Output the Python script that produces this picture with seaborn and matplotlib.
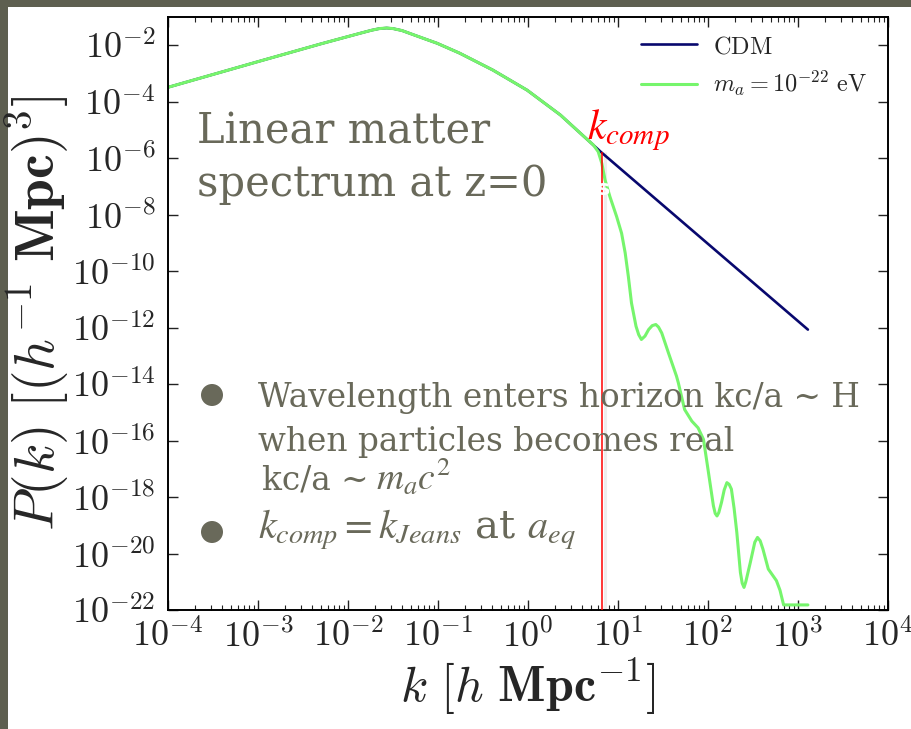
import numpy as np
import pandas as pd
import matplotlib
matplotlib.use("Agg")
import matplotlib.pyplot as plt
import seaborn as sns
from matplotlib.patches import Rectangle, Ellipse
from matplotlib.ticker import FixedLocator, LogLocator, FuncFormatter, NullFormatter
import matplotlib.transforms as mtransforms

# ---------------- data (log10 values) ----------------
cdm_logk = [-4.0, -3.0, -2.3, -2.01, -1.87, -1.74, -1.65, -1.57, -1.5, -1.4, -1.28, -1.15,
            -1.01, -0.76, -0.39, -0.01, 0.36, 0.69, 0.81, 3.11]
cdm_logP = [-3.49, -2.58, -1.95, -1.70, -1.58, -1.47, -1.41, -1.39, -1.41, -1.48, -1.62, -1.77,
            -1.93, -2.28, -2.88, -3.59, -4.47, -5.43, -5.78, -12.07]

axion_logk = [-4.0, -3.0, -2.3, -2.01, -1.87, -1.74, -1.65, -1.57, -1.5, -1.4, -1.28, -1.15,
              -1.01, -0.76, -0.39, -0.01, 0.36, 0.69, 0.726, 0.78, 0.82, 0.856, 0.91,
              0.985, 1.04, 1.08, 1.115, 1.15, 1.20, 1.23, 1.26, 1.30, 1.34, 1.38,
              1.42, 1.45, 1.486, 1.56, 1.65, 1.67, 1.74, 1.82, 1.89, 1.95, 2.00,
              2.06, 2.08, 2.10, 2.12, 2.15, 2.18, 2.21, 2.235, 2.26, 2.29, 2.32,
              2.36, 2.38, 2.40, 2.42, 2.47, 2.52, 2.55, 2.58, 2.61, 2.67, 2.76,
              2.80, 2.84, 3.11]
axion_logP = [-3.49, -2.58, -1.95, -1.70, -1.58, -1.47, -1.41, -1.39, -1.41, -1.48, -1.62, -1.77,
              -1.93, -2.28, -2.88, -3.59, -4.47, -5.43, -5.53, -5.77, -6.18, -6.77, -7.36,
              -8.07, -8.66, -9.36, -10.19, -11.13, -11.95, -12.25, -12.42, -12.30, -12.07, -11.93,
              -11.89, -11.98, -12.19, -12.89, -13.72, -13.95, -14.90, -15.31, -15.55, -15.96, -17.02,
              -18.31, -18.58, -18.67, -18.55, -18.19, -17.75, -17.49, -17.55, -17.72, -18.40, -19.25,
              -20.67, -21.05, -21.20, -21.00, -20.32, -19.60, -19.43, -19.55, -19.84, -20.55, -20.96,
              -21.30, -21.82, -21.82]

k_comp = 10 ** 0.82
P_at_kcomp = 10 ** -5.78

series_labels = [r"$\mathrm{CDM}$", r"$m_a = 10^{-22}\ \mathrm{eV}$"]
xtick_exponents = list(range(-4, 5))
ytick_exponents = list(range(-22, 0, 2))

# ---------------- style ----------------
sns.set_theme(style="white")
plt.rcParams["font.family"] = ["DejaVu Serif", "DejaVu Sans"]
plt.rcParams["mathtext.fontset"] = "cm"

W, H = 911, 729
fig = plt.figure(figsize=(W / 100, H / 100), dpi=100)
fig.patch.set_facecolor("white")

def fx(x):
    return x / W

def fy(y):
    return 1 - y / H

# slide frame strips (top & left)
frame_col = "#5e5f50"
fig.add_artist(Rectangle((0, fy(7)), 1, 7 / H, transform=fig.transFigure,
                         facecolor=frame_col, edgecolor="none", zorder=0))
fig.add_artist(Rectangle((0, 0), 8 / W, 1, transform=fig.transFigure,
                         facecolor=frame_col, edgecolor="none", zorder=0))

ax = fig.add_axes([fx(168), fy(610), (888 - 168) / W, (610 - 17) / H])
ax.set_facecolor("white")

cdm_df = pd.DataFrame({"k": 10 ** np.array(cdm_logk), "P": 10 ** np.array(cdm_logP)})
ax_df = pd.DataFrame({"k": 10 ** np.array(axion_logk), "P": 10 ** np.array(axion_logP)})

navy = "#08086e"
green = "#76f56c"
sns.lineplot(data=cdm_df, x="k", y="P", ax=ax, color=navy, linewidth=1.9,
             label=series_labels[0], sort=False)
sns.lineplot(data=ax_df, x="k", y="P", ax=ax, color=green, linewidth=2.2,
             label=series_labels[1], sort=False)
for ln in ax.lines:
    ln.set_solid_joinstyle("round")

ax.set_xscale("log")
ax.set_yscale("log")
ax.set_xlim(1e-4, 1e4)
ax.set_ylim(1e-22, 1e-1)

# red k_comp line with faint shadow
shadow = mtransforms.offset_copy(ax.transData, fig=fig, x=3, y=0, units="dots")
ax.plot([k_comp, k_comp], [1e-22, P_at_kcomp], color="#ededed", linewidth=2.2,
        transform=shadow, zorder=1, solid_capstyle="butt")
ax.plot([k_comp, k_comp], [1e-22, P_at_kcomp], color="red", linewidth=1.1,
        zorder=3, solid_capstyle="butt")

# ticks
ax.xaxis.set_major_locator(FixedLocator([10.0 ** e for e in xtick_exponents]))
ax.xaxis.set_minor_locator(LogLocator(base=10, subs=np.arange(2, 10), numticks=50))
ax.xaxis.set_minor_formatter(NullFormatter())
ax.yaxis.set_major_locator(FixedLocator([10.0 ** e for e in ytick_exponents]))
ax.yaxis.set_minor_locator(FixedLocator([]))
fmt = FuncFormatter(lambda v, p: r"$10^{%d}$" % int(round(np.log10(v))))
ax.xaxis.set_major_formatter(fmt)
ax.yaxis.set_major_formatter(fmt)
ax.tick_params(which="both", direction="in", top=True, right=True, bottom=True, left=True,
               color="#222222")
ax.tick_params(which="major", length=7, width=1.0, labelsize=26)
ax.tick_params(which="minor", length=3.5, width=0.8)
ax.tick_params(axis="y", pad=9)
ax.tick_params(axis="x", pad=6)
for s in ax.spines.values():
    s.set_visible(True)
    s.set_color("black")
    s.set_linewidth(1.4)

ax.set_xlabel(r"$k\ [h\ \mathbf{Mpc}^{-1}]$", fontsize=36, labelpad=2)
ax.set_ylabel(r"$P(k)\ [(h^{-1}\ \mathbf{Mpc})^{3}]$", fontsize=40, labelpad=0)

leg = ax.legend(loc="upper left", bbox_to_anchor=(fx(641), fy(35)),
                bbox_transform=fig.transFigure, frameon=False, fontsize=17.5,
                handlelength=2.3, handletextpad=0.65, labelspacing=0.45,
                borderpad=0, borderaxespad=0)

# ---------------- slide annotations ----------------
olive = "#69695a"
fig.text(fx(197), fy(143), "Linear matter", fontsize=30, color=olive, va="baseline")
fig.text(fx(197), fy(196), "spectrum at z=0", fontsize=30, color=olive, va="baseline")

fig.text(fx(587), fy(139), r"$k_{comp}$", color="red", fontsize=30,
         math_fontfamily="stix", va="baseline")
fig.text(fx(604), fy(195), "s", color="white", fontsize=16, fontweight="bold",
         ha="center", va="baseline", family=["DejaVu Sans"])

for yb in (395, 532):
    fig.add_artist(Ellipse((fx(212), fy(yb)), 22 / W, 22 / H, transform=fig.transFigure,
                           facecolor=olive, edgecolor="none"))

fig.text(fx(258), fy(407), "Wavelength enters horizon kc/a ~ H", fontsize=23.6,
         color=olive, va="baseline")
fig.text(fx(258), fy(451), "when particles becomes real", fontsize=23.6,
         color=olive, va="baseline")
fig.text(fx(262), fy(489), "kc/a ~", fontsize=23.6, color=olive, va="baseline")
fig.text(fx(376), fy(490), r"$m_a c^2$", fontsize=27, color=olive,
         va="baseline", math_fontfamily="stix")
fig.text(fx(258), fy(539), r"$k_{comp} = k_{Jeans}$ at $a_{eq}$", fontsize=29,
         color=olive, va="baseline", math_fontfamily="stix")

fig.savefig("out.png", dpi=100, facecolor="white")
